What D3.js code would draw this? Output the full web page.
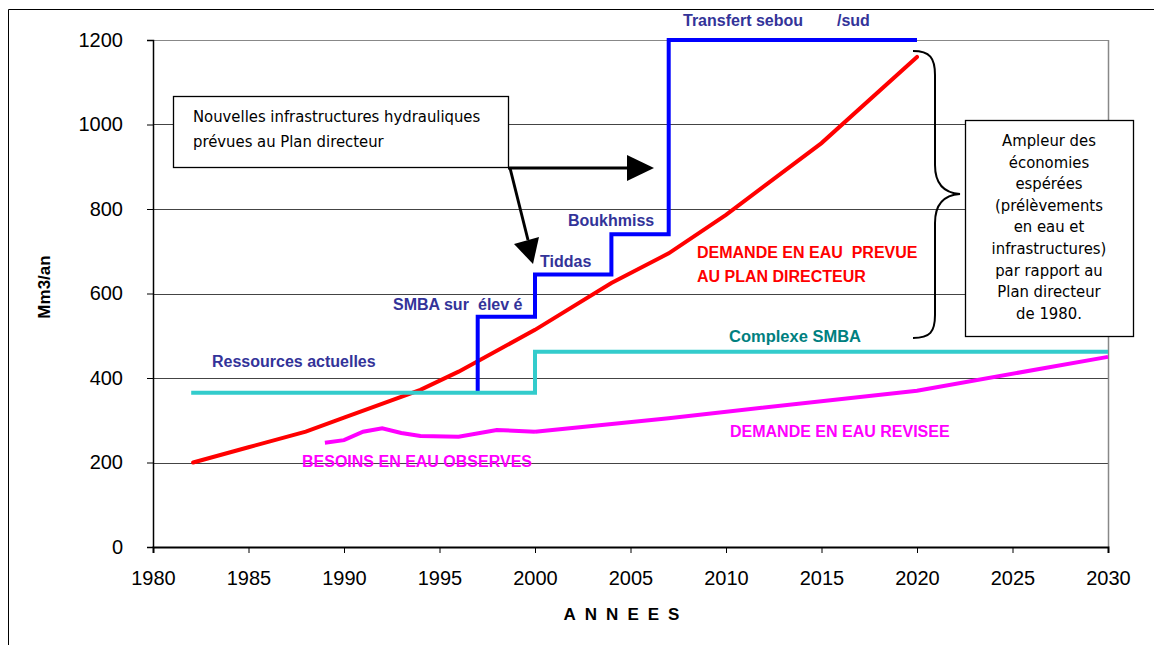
<!DOCTYPE html>
<html><head><meta charset="utf-8">
<script src="https://cdn.jsdelivr.net/npm/d3@7"></script>
<style>body{margin:0;background:#fff}svg{display:block}</style>
</head><body>
<svg id="c" width="1154" height="645"></svg>
<script>
const xTicks = [1980,1985,1990,1995,2000,2005,2010,2015,2020,2025,2030];
const yTicks = [0,200,400,600,800,1000,1200];
const demandePrevue = [[1982.1,200],[1985,236],[1988,273],[1990,306],[1994,372],[1996,415],[2000,514],[2004,625],[2007,695],[2010,786],[2015,956],[2020,1160]];
const infrastructures = [[1997,367],[1997,545],[2000,545],[2000,645],[2004,645],[2004,740],[2007,740],[2007,1200],[2020,1200]];
const ressources = [[1982,365],[2000,365],[2000,462],[2030,462]];
const besoinsObserves = [[1989,247],[1990,253],[1991,273],[1992,281],[1993,270],[1994,263],[1996,261],[1998,277],[2000,273]];
const demandeRevisee = [[2000,273],[2007,305],[2020,370],[2030,450]];
const boxLines = ["Nouvelles infrastructures hydrauliques","prévues au Plan directeur"];
const noteLines = ["Ampleur des","économies","espérées","(prélèvements","en eau et","infrastructures)","par rapport au","Plan directeur","de 1980."];

const svg = d3.select("#c");
const L=153,R=1108,T=40,B=547;
const x = d3.scaleLinear().domain([1980,2030]).range([L,R]);
const y = d3.scaleLinear().domain([0,1200]).range([B,T]);
const SANS = "Liberation Sans, Arial, sans-serif";
const NOTE = "DejaVu Sans Condensed, sans-serif";

// outer frame
svg.append("path").attr("d","M8.5,645 V9.5 H1154").attr("fill","none").attr("stroke","#000").attr("stroke-width",1);

// gridlines
svg.append("g").selectAll("line").data(yTicks.filter(d=>d>0)).join("line")
  .attr("x1",L).attr("x2",R).attr("y1",d=>Math.round(y(d))+0.5).attr("y2",d=>Math.round(y(d))+0.5)
  .attr("stroke",d=>d===1200?"#888":"#444").attr("stroke-width",1);
svg.append("line").attr("x1",R+0.5).attr("x2",R+0.5).attr("y1",T).attr("y2",B).attr("stroke","#888").attr("stroke-width",1.5);

// axes
const yAxis = d3.axisLeft(y).tickValues(yTicks).tickFormat(d3.format("d")).tickSize(6).tickPadding(24);
const gy = svg.append("g").attr("transform",`translate(${L},0)`).call(yAxis);
gy.select(".domain").attr("stroke","#000").attr("stroke-width",1.5);
gy.selectAll("text").attr("font-family",SANS).attr("font-size",20).attr("fill","#000");
const xAxis = d3.axisBottom(x).tickValues(xTicks).tickFormat(d3.format("d")).tickSize(6).tickPadding(18);
const gx = svg.append("g").attr("transform",`translate(0,${B})`).call(xAxis);
gx.select(".domain").attr("stroke","#000").attr("stroke-width",2);
gx.selectAll("text").attr("font-family",SANS).attr("font-size",20).attr("fill","#000");

svg.append("text").attr("transform","translate(50,287) rotate(-90)").attr("text-anchor","middle")
  .attr("font-family",SANS).attr("font-weight","bold").attr("font-size",17).text("Mm3/an");
svg.append("text").attr("x",626).attr("y",620).attr("text-anchor","middle").attr("letter-spacing",9)
  .attr("font-family",SANS).attr("font-weight","bold").attr("font-size",17).text("ANNEES");

const line = d3.line().x(d=>x(d[0])).y(d=>y(d[1]));
const seriesStyle = [
  [demandePrevue,"#FF0000","round"],
  [infrastructures,"#0000FF","butt"],
  [ressources,"#33CCCC","butt"],
  [besoinsObserves,"#FF00FF","butt"],
  [demandeRevisee,"#FF00FF","butt"]
];
seriesStyle.forEach(([data,col,cap])=>{
  svg.append("path").datum(data).attr("d",line).attr("fill","none").attr("stroke",col)
    .attr("stroke-width",4).attr("stroke-linejoin","miter").attr("stroke-linecap",cap);
});

// labels
const lab = (txt,xx,yy,col,size=16)=>svg.append("text").attr("x",xx).attr("y",yy).attr("fill",col)
  .attr("font-family",SANS).attr("font-weight","bold").attr("font-size",size).style("white-space","pre").text(txt);
lab("Transfert sebou",683,26,"#333399");
lab("/sud",837,26,"#333399");
lab("Boukhmiss",568,226,"#333399");
lab("Tiddas",540,267,"#333399");
lab("SMBA sur",393,310,"#333399");
lab("élev é",478,310,"#333399");
lab("Ressources actuelles",212,367,"#333399");
lab("Complexe SMBA",729,342,"#008080",16.5);
lab("DEMANDE EN EAU  PREVUE",697,258,"#FF0000");
lab("AU PLAN DIRECTEUR",697,282,"#FF0000");
lab("DEMANDE EN EAU REVISEE",730,437,"#FF00FF");
lab("BESOINS EN EAU OBSERVES",302,467,"#FF00FF");

// box 1
svg.append("rect").attr("x",173.5).attr("y",96.5).attr("width",335).attr("height",71).attr("fill","#fff").attr("stroke","#000").attr("stroke-width",1.3);
svg.append("g").selectAll("text").data(boxLines).join("text").attr("x",193).attr("y",(d,i)=>122+i*25)
  .attr("font-family",NOTE).attr("font-size",16.5).attr("fill","#000").text(d=>d);

// arrows
svg.append("line").attr("x1",508).attr("y1",168).attr("x2",630).attr("y2",168).attr("stroke","#000").attr("stroke-width",3);
svg.append("path").attr("d","M627,155 L654,168 L627,181 Z").attr("fill","#000");
svg.append("line").attr("x1",510).attr("y1",168).attr("x2",528).attr("y2",240).attr("stroke","#000").attr("stroke-width",3);
svg.append("path").attr("d","M514,244 L539,237 L533,264 Z").attr("fill","#000");

// brace
svg.append("path").attr("d","M913,51 C930,51 935,58 935,75 L935,165 C935,185 945,193 960,194 C945,195 935,203 935,223 L935,315 C935,332 930,338 913,338")
  .attr("fill","none").attr("stroke","#000").attr("stroke-width",2);

// box 2
svg.append("rect").attr("x",965.5).attr("y",120.5).attr("width",168).attr("height",216).attr("fill","#fff").attr("stroke","#000").attr("stroke-width",1.3);
svg.append("g").selectAll("text").data(noteLines).join("text").attr("x",1049).attr("y",(d,i)=>146+i*21.6)
  .attr("text-anchor","middle").attr("font-family",NOTE).attr("font-size",16.5).attr("fill","#000").text(d=>d);
</script>
</body></html>
